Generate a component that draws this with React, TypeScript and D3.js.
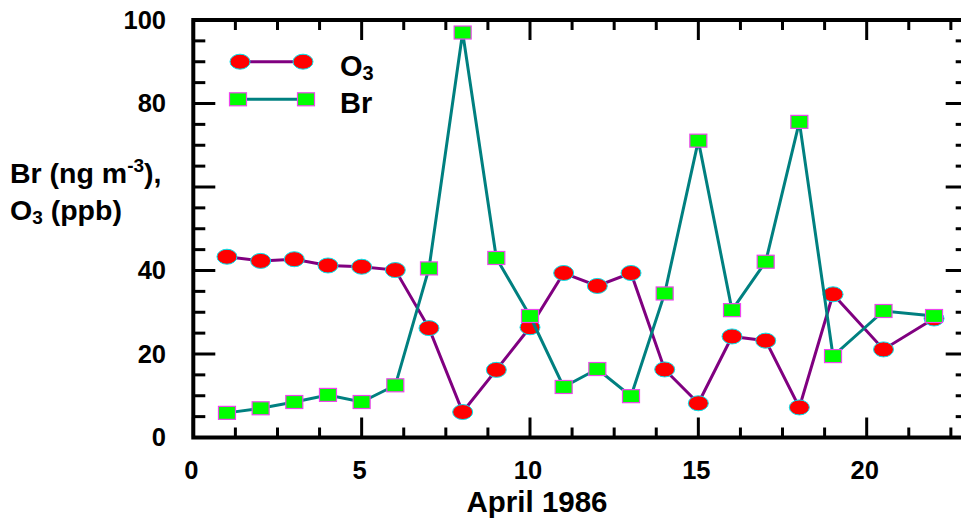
import * as d3 from 'd3';
import React from 'react';

// days of April 1986
const o3Days = [1, 2, 3, 4, 5, 6, 7, 8, 9, 10, 11, 12, 13, 14, 15, 16, 17, 18, 19, 20.5, 22];
const o3Values = [43.3, 42.3, 42.7, 41.2, 40.9, 40.1, 26.2, 6.1, 16.2, 26.4, 39.4, 36.3, 39.4, 16.3, 8.2, 24.2, 23.2, 7.2, 34.3, 21.1, 28.5];
const brDays = [1, 2, 3, 4, 5, 6, 7, 8, 9, 10, 11, 12, 13, 14, 15, 16, 17, 18, 19, 20.5, 22];
const brValues = [5.9, 7.0, 8.5, 10.2, 8.5, 12.5, 40.5, 97.0, 43.0, 29.1, 12.1, 16.4, 9.9, 34.5, 71.1, 30.5, 42.1, 75.6, 19.5, 30.3, 29.1];

const xTickLabels = [0, 5, 10, 15, 20];
// 60 is left out in the original: the axis title sits there
const yTickLabels = [0, 20, 40, 80, 100];

const W = 961, H = 519;
const FONT = 'Liberation Sans, Arial, sans-serif';

export default () => {
    const x = d3.scaleLinear().domain([0, 23]).range([193.3, 967.7]);
    const y = d3.scaleLinear().domain([0, 100]).range([437.5, 20]);
    const [x0, x1] = x.range();
    const [y0, y1] = y.range();

    const xMinor = d3.range(0, 23.01, 1.25);
    const yMinor = d3.range(0, 100.01, 5);

    const line = d3.line<[number, number]>().x(d => x(d[0])).y(d => y(d[1]));
    const o3 = o3Days.map((d, i) => [d, o3Values[i]] as [number, number]);
    const br = brDays.map((d, i) => [d, brValues[i]] as [number, number]);

    const isMajorX = (v: number) => Math.abs(v % 5) < 1e-6;
    const isMajorY = (v: number) => v % 20 === 0;

    return (
        <svg width={W} height={H} style={{ position: 'absolute', left: 0, top: 0, background: '#fff' }}
            fontFamily={FONT} fontWeight="bold">
            {/* ticks, pointing inward on all four sides */}
            <g stroke="#000" strokeWidth={3}>
                {xMinor.map(v => {
                    const len = isMajorX(v) ? 20 : 10;
                    return (
                        <React.Fragment key={'x' + v}>
                            <line x1={x(v)} x2={x(v)} y1={y0} y2={y0 - len} />
                            <line x1={x(v)} x2={x(v)} y1={y1} y2={y1 + len} />
                        </React.Fragment>
                    );
                })}
                {yMinor.map(v => {
                    const len = isMajorY(v) ? 22 : 12;
                    return (
                        <React.Fragment key={'y' + v}>
                            <line x1={x0} x2={x0 + len} y1={y(v)} y2={y(v)} />
                            <line x1={x1} x2={x1 - len} y1={y(v)} y2={y(v)} />
                        </React.Fragment>
                    );
                })}
            </g>
            <rect x={x0} y={y1} width={x1 - x0} height={y0 - y1} fill="none" stroke="#000" strokeWidth={4} />

            {xTickLabels.map(v => (
                <text key={'xl' + v} x={x(v) - 2} y={478.5} textAnchor="middle" fontSize={25.5}>{v}</text>
            ))}
            {yTickLabels.map(v => (
                <text key={'yl' + v} x={166} y={y(v) + 8.5} textAnchor="end" fontSize={25.5}>{v}</text>
            ))}

            <text x={537} y={511.5} textAnchor="middle" fontSize={29.5}>April 1986</text>
            <text x={10} y={183} fontSize={28.5}>
                Br (ng m<tspan dy={-11} fontSize={19}>-3</tspan><tspan dy={11}>),</tspan>
            </text>
            <text x={10} y={220} fontSize={28.5}>
                O<tspan dy={4} fontSize={19}>3</tspan><tspan dy={-4}> (ppb)</tspan>
            </text>

            {/* O3 series */}
            <path d={line(o3) || ''} fill="none" stroke="#800080" strokeWidth={3} />
            {o3.map((d, i) => (
                <ellipse key={'o' + i} cx={x(d[0])} cy={y(d[1])} rx={10} ry={7.5} fill="#ff0000" stroke="#00e5ee" strokeWidth={1} />
            ))}

            {/* Br series */}
            <path d={line(br) || ''} fill="none" stroke="#008080" strokeWidth={3} />
            {br.map((d, i) => (
                <rect key={'b' + i} x={x(d[0]) - 8.5} y={y(d[1]) - 6.5} width={17} height={13} fill="#00ff00" stroke="#ee44ee" strokeWidth={1.2} />
            ))}

            {/* legend */}
            <line x1={240} x2={303} y1={61.7} y2={61.7} stroke="#800080" strokeWidth={3} />
            <ellipse cx={240} cy={61.7} rx={10} ry={7.5} fill="#ff0000" stroke="#00e5ee" strokeWidth={1} />
            <ellipse cx={303} cy={61.7} rx={10} ry={7.5} fill="#ff0000" stroke="#00e5ee" strokeWidth={1} />
            <text x={340} y={76} fontSize={29}>O<tspan dy={4} fontSize={20}>3</tspan></text>

            <line x1={238} x2={306} y1={99.3} y2={99.3} stroke="#008080" strokeWidth={3} />
            <rect x={238 - 8.5} y={99.3 - 6.5} width={17} height={13} fill="#00ff00" stroke="#ee44ee" strokeWidth={1.2} />
            <rect x={306 - 8.5} y={99.3 - 6.5} width={17} height={13} fill="#00ff00" stroke="#ee44ee" strokeWidth={1.2} />
            <text x={340} y={113} fontSize={29}>Br</text>
        </svg>
    );
};
